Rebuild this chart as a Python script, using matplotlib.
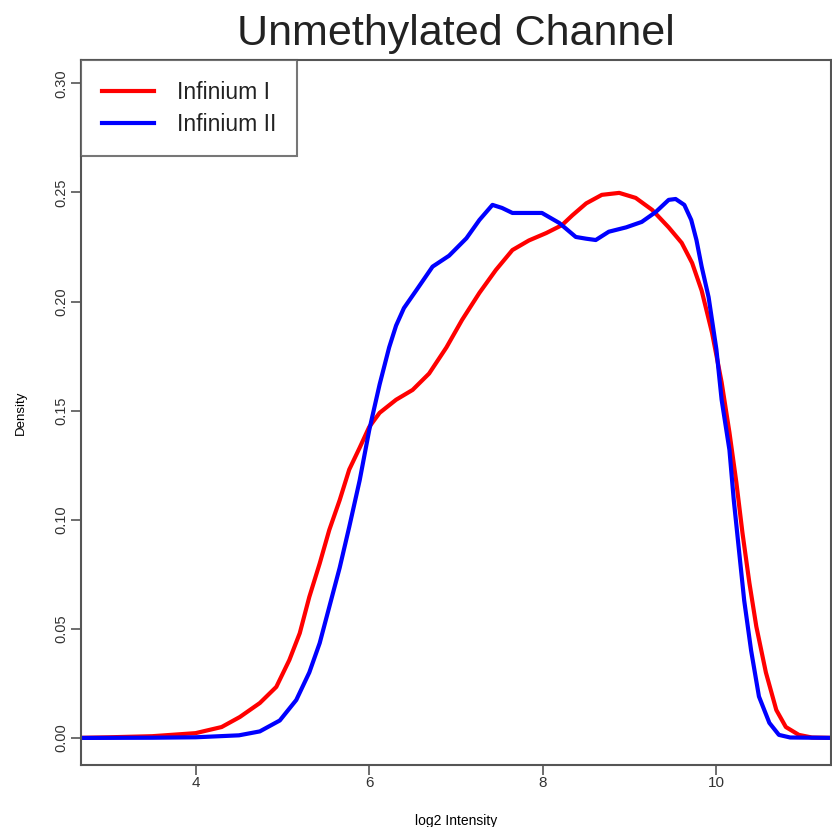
import numpy as np
import matplotlib.pyplot as plt

plt.rcParams['font.family'] = ['Liberation Sans', 'DejaVu Sans']

# density curves (log2 intensity, density)
inf1_x = [2.6, 3.0, 3.5, 4.0, 4.3, 4.51, 4.74, 4.93, 5.08, 5.20, 5.31, 5.43, 5.54,
          5.66, 5.77, 5.89, 6.0, 6.12, 6.31, 6.50, 6.69, 6.89, 7.07, 7.27, 7.46,
          7.65, 7.84, 8.04, 8.22, 8.34, 8.50, 8.68, 8.88, 9.07, 9.26, 9.45, 9.60,
          9.72, 9.83, 9.95, 10.06, 10.15, 10.23, 10.30, 10.38, 10.46, 10.57, 10.69,
          10.80, 10.95, 11.1, 11.4]
inf1_y = [0.0, 0.0003, 0.0008, 0.0022, 0.005, 0.0096, 0.016, 0.0234, 0.0357, 0.048,
          0.0646, 0.080, 0.0953, 0.109, 0.123, 0.133, 0.1425, 0.149, 0.155, 0.1595,
          0.167, 0.179, 0.1916, 0.204, 0.2145, 0.2236, 0.228, 0.2314, 0.235, 0.2395,
          0.245, 0.2489, 0.2498, 0.2475, 0.242, 0.234, 0.2269, 0.2177, 0.205, 0.1856,
          0.163, 0.140, 0.117, 0.094, 0.071, 0.051, 0.030, 0.0128, 0.005, 0.0014,
          0.0002, 0.0]

inf2_x = [2.6, 3.5, 4.0, 4.5, 4.74, 4.97, 5.16, 5.31, 5.43, 5.54, 5.66, 5.77, 5.89,
          6.0, 6.12, 6.23, 6.31, 6.40, 6.54, 6.73, 6.92, 7.12, 7.27, 7.42, 7.53, 7.65,
          7.81, 7.99, 8.19, 8.38, 8.50, 8.61, 8.76, 8.96, 9.14, 9.30, 9.45, 9.53,
          9.63, 9.71, 9.77, 9.83, 9.91, 10.0, 10.06, 10.15, 10.20, 10.26, 10.32,
          10.40, 10.49, 10.61, 10.72, 10.85, 11.4]
inf2_y = [0.0, 0.0001, 0.0003, 0.0012, 0.003, 0.008, 0.0174, 0.030, 0.0435, 0.060,
          0.078, 0.0967, 0.118, 0.141, 0.162, 0.179, 0.189, 0.197, 0.205, 0.216, 0.221,
          0.229, 0.2374, 0.2443, 0.2429, 0.2406, 0.2406, 0.2406, 0.236, 0.2296,
          0.2288, 0.2282, 0.232, 0.234, 0.2365, 0.241, 0.2466, 0.247, 0.2443, 0.2374,
          0.2282, 0.216, 0.202, 0.178, 0.155, 0.132, 0.109, 0.086, 0.063, 0.040,
          0.019, 0.0069, 0.0014, 0.0002, 0.0]

fig = plt.figure(figsize=(8.32, 8.27), dpi=100)
ax = fig.add_axes([81/832, 1 - 765/827, 750/832, 705/827])

ax.plot(inf1_x, inf1_y, color='#ff0000', lw=3, label='Infinium I', solid_joinstyle='round')
ax.plot(inf2_x, inf2_y, color='#0000ff', lw=3, label='Infinium II', solid_joinstyle='round')

ax.set_xlim(2.68, 11.32)
ax.set_ylim(-0.0124, 0.3107)
ax.set_xticks([4, 6, 8, 10])
ax.set_yticks([0.0, 0.05, 0.10, 0.15, 0.20, 0.25, 0.30])
ax.set_yticklabels(['0.00', '0.05', '0.10', '0.15', '0.20', '0.25', '0.30'],
                   rotation=90, va='center')
ax.tick_params(axis='both', colors='#555555', labelcolor='#333333', length=7,
               width=1.2, direction='out', labelsize=10.5)
ax.tick_params(axis='y', pad=2)
ax.tick_params(axis='x', pad=1, labelsize=11)
for s in ax.spines.values():
    s.set_color('#555555')
    s.set_linewidth(1.5)

ax.set_title('Unmethylated Channel', fontsize=31, color='#222222', pad=11)
ax.set_xlabel('log2 Intensity', fontsize=10, labelpad=17)
ax.set_ylabel('Density', fontsize=9.5, labelpad=20)

leg = ax.legend(loc='upper left', fontsize=16.5, frameon=True, fancybox=False,
                borderaxespad=0, handlelength=2.3, handletextpad=1.0,
                borderpad=0.9, labelspacing=0.4)
leg.get_frame().set_edgecolor('#555555')
leg.get_frame().set_linewidth(1.5)
for t in leg.get_texts():
    t.set_color('#222222')

fig.savefig('out.png', dpi=100)
